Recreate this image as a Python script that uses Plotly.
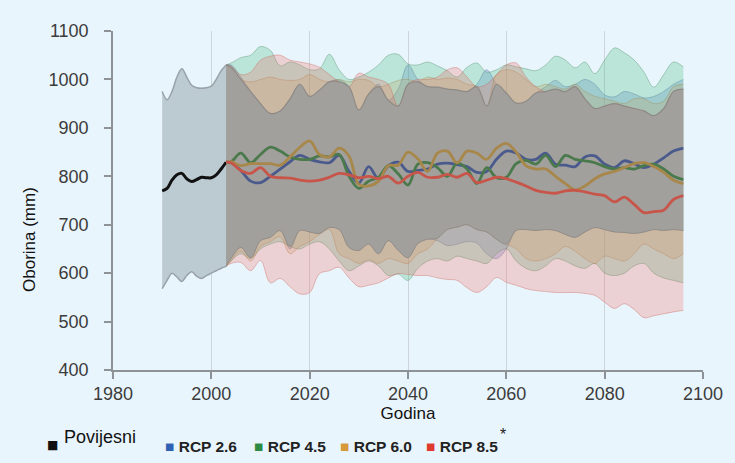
import numpy as np
import plotly.graph_objects as go

# ---------------- data ----------------
hist_years = [1990, 1991, 1992, 1993, 1994, 1995, 1996, 1997, 1998, 1999, 2000, 2001, 2002, 2003]
hist_mean = [770, 775, 792, 803, 806, 795, 789, 793, 798, 797, 797, 803, 815, 829]
hist_high = [975, 958, 975, 1005, 1022, 1005, 988, 983, 982, 983, 986, 1000, 1018, 1030]
hist_low = [568, 585, 600, 592, 583, 595, 603, 594, 589, 595, 600, 605, 610, 614]

proj_years = [2003, 2004, 2006, 2008, 2010, 2012, 2014, 2016, 2018, 2020, 2022, 2024, 2026, 2028,
              2030, 2032, 2034, 2036, 2038, 2040, 2042, 2044, 2046, 2048, 2050, 2052, 2054, 2056,
              2058, 2060, 2062, 2064, 2066, 2068, 2070, 2072, 2074, 2076, 2078, 2080, 2082, 2084,
              2086, 2088, 2090, 2092, 2094, 2096]

rcp26_mean = [829, 828, 812, 790, 787, 800, 815, 830, 843, 835, 830, 828, 843, 810, 786, 820, 795, 822,
              829, 810, 812, 815, 825, 827, 824, 820, 808, 810, 835, 852, 848, 835, 835, 848, 825, 823,
              820, 840, 842, 825, 818, 832, 826, 818, 825, 838, 852, 858]
rcp45_mean = [829, 830, 848, 828, 845, 860, 852, 840, 835, 835, 842, 840, 845, 800, 775, 790, 798, 822,
              805, 782, 825, 828, 818, 800, 827, 815, 785, 818, 797, 798, 826, 833, 825, 843, 820, 843,
              835, 832, 828, 820, 815, 818, 815, 822, 825, 815, 800, 793]
rcp60_mean = [829, 830, 822, 826, 826, 826, 823, 840, 860, 873, 845, 840, 858, 842, 783, 780, 790, 822,
              823, 850, 836, 810, 848, 852, 828, 852, 848, 835, 858, 868, 850, 822, 815, 815, 800, 785,
              772, 780, 795, 805, 810, 818, 826, 828, 820, 808, 792, 785]
rcp85_mean = [829, 828, 812, 806, 818, 800, 797, 796, 792, 790, 792, 798, 806, 803, 797, 800, 795, 800,
              786, 800, 808, 798, 798, 804, 798, 806, 787, 792, 798, 795, 788, 780, 771, 767, 765, 770,
              771, 768, 763, 760, 747, 757, 742, 725, 727, 730, 752, 760]

rcp26_high = [1030, 1030, 1005, 975, 950, 930, 935, 960, 990, 965, 978, 995, 999, 985, 937, 970, 990, 957,
              980, 1030, 1000, 985, 984, 980, 978, 975, 990, 1020, 990, 972, 951, 955, 972, 985, 998, 985,
              990, 1000, 990, 968, 964, 975, 970, 962, 965, 975, 990, 1000]
rcp45_high = [1030, 1034, 1045, 1050, 1068, 1060, 1028, 1036, 1030, 1020, 1022, 1052, 1020, 1000, 1005,
              1015, 1030, 1050, 1052, 1032, 1030, 1036, 1028, 1018, 1005, 1025, 1034, 1015, 1020, 1030,
              1026, 1022, 1018, 1030, 1048, 1040, 1024, 1036, 1012, 1040, 1065, 1055, 1040, 1015, 984,
              1010, 1036, 1026]
rcp60_high = [1030, 1025, 1000, 995, 1000, 1005, 1000, 998, 1000, 1010, 1000, 995, 1000, 995, 1000, 998,
              985, 990, 998, 1000, 995, 1005, 1000, 1003, 1000, 990, 985, 945, 1010, 1020, 1015, 1000,
              985, 990, 985, 980, 990, 975, 965, 960, 955, 950, 960, 960, 950, 955, 985, 990]
rcp85_high = [1030, 1028, 1010, 1015, 1040, 1048, 1050, 1040, 1036, 1032, 1025, 1010, 995, 985, 1013,
              1005, 1000, 990, 945, 990, 1000, 1000, 1005, 1020, 1024, 1005, 985, 990, 1010, 1030, 1034,
              1005, 985, 975, 980, 975, 985, 960, 940, 945, 950, 945, 940, 935, 925, 940, 975, 980]

rcp26_low = [614, 630, 653, 632, 667, 674, 688, 650, 688, 685, 682, 694, 690, 653, 647, 660, 640, 667,
             647, 632, 661, 670, 667, 657, 660, 665, 662, 640, 630, 650, 688, 690, 688, 690, 688, 680,
             674, 685, 694, 690, 685, 684, 682, 685, 690, 688, 690, 688]
rcp45_low = [614, 625, 640, 630, 650, 660, 665, 655, 650, 660, 665, 650, 625, 605, 615, 625, 615, 595,
             598, 585, 610, 625, 630, 625, 635, 630, 625, 620, 640, 650, 625, 610, 605, 615, 630, 625,
             615, 610, 620, 600, 595, 600, 615, 620, 600, 590, 585, 580]
rcp60_low = [614, 625, 645, 625, 655, 665, 675, 640, 655, 665, 680, 690, 640, 630, 620, 628, 620, 630,
             625, 620, 640, 650, 672, 690, 695, 700, 690, 685, 670, 660, 650, 630, 625, 630, 640, 655,
             645, 630, 620, 635, 630, 625, 640, 660, 650, 640, 630, 640]
rcp85_low = [614, 620, 622, 605, 626, 580, 589, 572, 557, 560, 599, 605, 612, 590, 572, 575, 580, 590,
             599, 597, 595, 595, 590, 587, 585, 570, 560, 572, 591, 581, 575, 568, 564, 562, 560, 560,
             560, 558, 554, 540, 527, 537, 525, 508, 512, 516, 520, 523]

x_ticks = [1980, 2000, 2020, 2040, 2060, 2080, 2100]
y_ticks = [400, 500, 600, 700, 800, 900, 1000, 1100]

series_names = ["RCP 2.6", "RCP 4.5", "RCP 6.0", "RCP 8.5"]

# ---------------- styles ----------------
BG = "#e9f5fc"
FONT = "Liberation Sans, Arial, sans-serif"
band_fill = ["rgba(80,115,200,0.26)", "rgba(70,185,125,0.28)", "rgba(195,165,100,0.26)", "rgba(245,105,95,0.26)"]
band_edge = ["rgba(70,85,150,0.35)", "rgba(60,130,90,0.35)", "rgba(160,130,70,0.35)", "rgba(200,85,75,0.35)"]
line_col = ["#4a5a8c", "#4a7a4c", "#a8874a", "#c8554a"]
legend_col = ["#2f62b5", "#2e8b45", "#d69a3a", "#e03a2e"]

means = [rcp26_mean, rcp45_mean, rcp60_mean, rcp85_mean]
highs = [rcp26_high, rcp45_high, rcp60_high, rcp85_high]
lows = [rcp26_low, rcp45_low, rcp60_low, rcp85_low]
for arr in means + highs + lows:
    assert len(arr) == len(proj_years), len(arr)

fig = go.Figure()

# historical band
fig.add_trace(go.Scatter(x=hist_years, y=hist_low, mode="lines", line=dict(color="#98a2a8", width=1.5, shape="spline"),
                         hoverinfo="skip", showlegend=False))
fig.add_trace(go.Scatter(x=hist_years, y=hist_high, mode="lines", fill="tonexty", fillcolor="#bccad2",
                         line=dict(color="#98a2a8", width=1.5, shape="spline"), hoverinfo="skip", showlegend=False))

# projection bands (order: blue, green, orange, red)
for i in range(4):
    fig.add_trace(go.Scatter(x=proj_years, y=lows[i], mode="lines",
                             line=dict(color=band_edge[i], width=1, shape="spline"),
                             hoverinfo="skip", showlegend=False))
    fig.add_trace(go.Scatter(x=proj_years, y=highs[i], mode="lines", fill="tonexty", fillcolor=band_fill[i],
                             line=dict(color=band_edge[i], width=1, shape="spline"),
                             hoverinfo="skip", showlegend=False))

# common overlap of all scenarios
core_low = np.maximum.reduce([np.array(a, float) for a in lows])
core_high = np.minimum.reduce([np.array(a, float) for a in highs])
fig.add_trace(go.Scatter(x=proj_years, y=core_low, mode="lines",
                         line=dict(color="rgba(125,123,120,0.5)", width=1, shape="spline"),
                         hoverinfo="skip", showlegend=False))
fig.add_trace(go.Scatter(x=proj_years, y=core_high, mode="lines", fill="tonexty", fillcolor="rgba(160,159,157,0.92)",
                         line=dict(color="rgba(125,123,120,0.6)", width=1.2, shape="spline"),
                         hoverinfo="skip", showlegend=False))

# mean lines
fig.add_trace(go.Scatter(x=hist_years, y=hist_mean, mode="lines", name="Povijesni",
                         line=dict(color="#111111", width=3, shape="spline"), showlegend=False))
for i in range(4):
    fig.add_trace(go.Scatter(x=proj_years, y=means[i], mode="lines", name=series_names[i],
                             line=dict(color=line_col[i], width=2.8, shape="spline"), showlegend=False))

# ---------------- layout ----------------
L, R, T, B = 113, 32, 31, 93
W, H = 735, 463
pw, ph = W - L - R, H - T - B


def px(xp):
    return (xp - L) / pw


def py(yp):
    return (H - B - yp) / ph


fig.update_layout(
    width=W, height=H,
    margin=dict(l=L, r=R, t=T, b=B),
    paper_bgcolor=BG, plot_bgcolor=BG,
    showlegend=False,
    font=dict(family=FONT, color="#3c3c3c"),
)
fig.update_xaxes(range=[1980, 2100], tickvals=x_ticks, showline=True, linecolor="#8c9296", linewidth=1.5,
                 ticks="outside", ticklen=7, tickcolor="#8c9296", tickwidth=1.5,
                 showgrid=True, gridcolor="#cdd5da", gridwidth=1, zeroline=False,
                 tickfont=dict(size=18, color="#3c3c3c", family=FONT),
                 title=dict(text="Godina", font=dict(size=17, color="#111111", family=FONT), standoff=0),
                 automargin=False)
fig.update_yaxes(range=[400, 1100], tickvals=y_ticks, showline=True, linecolor="#8c9296", linewidth=1.5,
                 ticks="outside", ticklen=7, tickcolor="#8c9296", tickwidth=1.5,
                 showgrid=False, zeroline=False, ticklabelstandoff=12,
                 tickfont=dict(size=18, color="#3c3c3c", family=FONT), automargin=False)

annotations = [
    dict(text="Oborina (mm)", textangle=-90, x=px(30), y=py(240), xref="paper", yref="paper",
         showarrow=False, font=dict(size=17, color="#111111", family=FONT), xanchor="center", yanchor="middle"),
    dict(text="■", x=px(45), y=py(445), xref="paper", yref="paper", showarrow=False,
         font=dict(size=12, color="#111111", family="DejaVu Sans"), xanchor="left", yanchor="middle"),
    dict(text="Povijesni", x=px(62), y=py(437), xref="paper", yref="paper", showarrow=False,
         font=dict(size=18, color="#111111", family=FONT), xanchor="left", yanchor="middle"),
    dict(text="*", x=px(498), y=py(434), xref="paper", yref="paper", showarrow=False,
         font=dict(size=16, color="#222222", family=FONT), xanchor="left", yanchor="middle"),
]
leg_x = [163, 252, 338, 424]
for i in range(4):
    txt = f"<span style='color:{legend_col[i]}'>■</span> <b>{series_names[i]}</b>"
    annotations.append(dict(text=txt, x=px(leg_x[i]), y=py(446), xref="paper", yref="paper", showarrow=False,
                            font=dict(size=15.5, color="#222222", family=FONT),
                            xanchor="left", yanchor="middle"))
fig.update_layout(annotations=annotations)

fig.write_html("out.html")
